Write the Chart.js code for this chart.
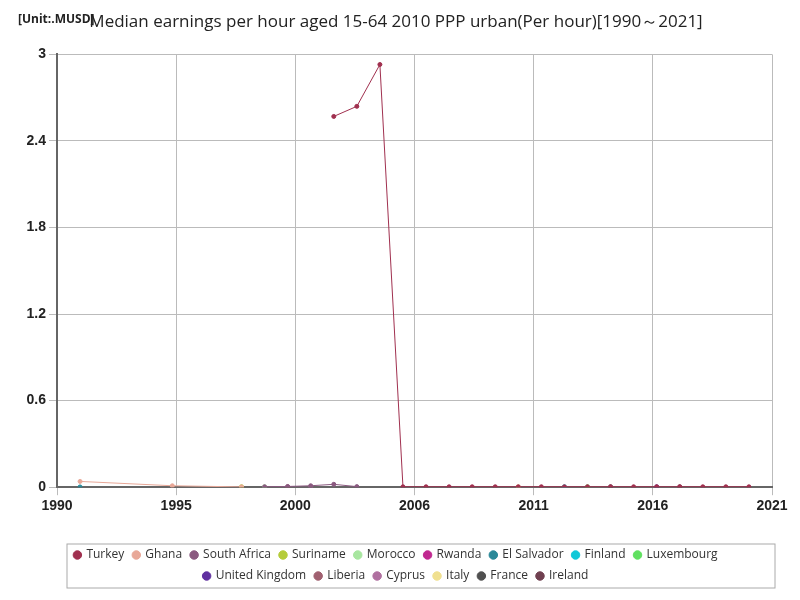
<!DOCTYPE html><html><head><script src="https://cdn.jsdelivr.net/npm/chart.js"></script>
<style>body{margin:0}#w{width:800px;height:600px}</style></head><body><div id="w"><canvas id="c"></canvas></div>
<script>
const names=["Turkey","Ghana","South Africa","Suriname","Morocco","Rwanda","El Salvador","Finland","Luxembourg","United Kingdom","Liberia","Cyprus","Italy","France","Ireland"];
const colors=["#a0304f","#e8a898","#8b5a80","#b5cc3a","#a8e6a0","#c02890","#2a8898","#10c8d8","#60e060","#6030a0","#a06070","#b070a0","#f0e090","#505050","#704050"];
const turkeyYears=[2002,2003,2004,2005,2006,2007,2008,2009,2010,2011,2012,2013,2014,2015,2016,2017,2018,2019,2020];
const turkeyVals=[2.57,2.64,2.93,0.003,0.003,0.003,0.003,0.003,0.003,0.003,0.003,0.003,0.003,0.003,0.003,0.003,0.003,0.003,0.003];
const ghanaYears=[1991,1995,1998];
const ghanaVals=[0.04,0.01,0.002];
const saYears=[1999,2000,2001,2002,2003];
const saVals=[0.003,0.005,0.01,0.02,0.004];
const otherYears=[[],[],[],[1998],[1999],[],[1991],[2012],[2013],[2016],[2000],[2001],[2010],[2014],[2017]];
const otherVals=[[],[],[],[0.003],[0.003],[],[0.002],[0.003],[0.003],[0.003],[0.003],[0.003],[0.003],[0.003],[0.003]];
function pts(x,y){return x.map((v,i)=>({x:v,y:y[i]}));}
const ds=names.map((n,i)=>{let d;
 if(i==0)d=pts(turkeyYears,turkeyVals);else if(i==1)d=pts(ghanaYears,ghanaVals);else if(i==2)d=pts(saYears,saVals);else d=pts(otherYears[i],otherVals[i]);
 return {label:n,data:d,borderColor:colors[i],backgroundColor:colors[i],borderWidth:1,pointRadius:2,pointStyle:'circle'};});
const boxPlug={id:'bx',afterDraw(ch){const l=ch.legend;const c=ch.ctx;c.save();c.strokeStyle='#aaa';c.lineWidth=1;c.strokeRect(67,l.top+4,708,l.height-8);c.restore();}};
new Chart(document.getElementById('c'),{type:'line',data:{datasets:ds},plugins:[boxPlug],
options:{responsive:true,maintainAspectRatio:false,animation:false,
layout:{padding:{left:20,right:28,top:12,bottom:8}},
plugins:{title:{display:true,text:'Median earnings per hour aged 15-64 2010 PPP urban(Per hour)[1990～2021]',font:{size:17,family:'Open Sans',weight:'normal'},color:'#222',padding:{top:0,bottom:22}},
legend:{position:'bottom',labels:{usePointStyle:true,boxWidth:6,boxHeight:6,font:{size:12,family:'Open Sans'},color:'#333',padding:9},
 onClick:null},tooltip:{enabled:false}},
scales:{x:{type:'linear',min:1990,max:2021,afterBuildTicks:a=>{a.ticks=[0,1,2,3,4,5,6].map(k=>({value:1990+k*31/6}));},
afterFit:s=>{s.height+=22;},
ticks:{callback:v=>Math.round(v),font:{size:14,weight:'bold'},color:'#222',maxRotation:0},grid:{color:'#bbb'},border:{color:'#666',width:2}},
y:{min:0,max:3,afterFit:s=>{s.width=37;},ticks:{stepSize:0.6,callback:v=>+v.toFixed(1),font:{size:14,weight:'bold'},color:'#222'},grid:{color:'#bbb'},border:{color:'#666',width:2}}}}});
</script>
<div style="position:absolute;left:18px;top:10px;font:bold 12px 'Open Sans';color:#222">[Unit:.MUSD]</div>
</body></html>
